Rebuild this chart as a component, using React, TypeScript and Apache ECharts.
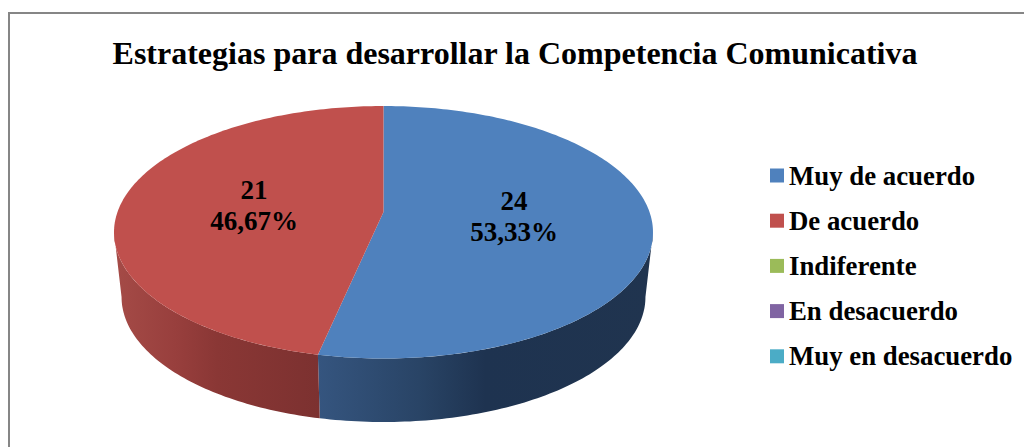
import React, { useEffect, useRef } from "react";
import * as echarts from "echarts";

const titleText = "Estrategias para desarrollar la Competencia Comunicativa";
const categories = ["Muy de acuerdo", "De acuerdo", "Indiferente", "En desacuerdo", "Muy en desacuerdo"];
const values = [24, 21, 0, 0, 0];
const colors = ["#4F81BD", "#C0504D", "#9BBB59", "#8064A2", "#4BACC6"];
const sideStops = [
  ["#35557F", "#294466", "#1E3350", "#20344F"],
  ["#A54B47", "#983F3D", "#8A3735", "#7C3130"],
];
const sideGradStops = [0, 0.3, 0.5, 1];

const FONT = '"Liberation Serif", "Times New Roman", serif';
const CX = 383.5;
const Y0 = 212;
const A = 266;
const B = 123;
const K = 0.1604;
const DROP = 65;
const SX = 0.972;
const SY = 0.99;
const WIDE = 90 + (Math.asin(K) * 180) / Math.PI;
const labelPos = [
  [514, 216],
  [254, 205],
];

const total = values.reduce((a, b) => a + b, 0);

function project(deg: number, bottom: boolean): number[] {
  const r = (deg * Math.PI) / 180;
  const x = Math.sin(r);
  const y = -Math.cos(r);
  const d = 1 - K * y;
  const sx = bottom ? SX : 1;
  const sy = bottom ? SY : 1;
  return [CX + (sx * A * x) / d, Y0 + (bottom ? DROP : 0) + (sy * B * y) / d];
}

function arc(a0: number, a1: number, bottom: boolean): number[][] {
  const n = Math.max(2, Math.ceil(Math.abs(a1 - a0)));
  const out: number[][] = [];
  for (let i = 0; i <= n; i++) out.push(project(a0 + ((a1 - a0) * i) / n, bottom));
  return out;
}

function renderSlice(params: any, api: any) {
  const idx = params.seriesIndex;
  const v = api.value(0);
  if (!v) return { type: "group", children: [] };
  const before = values.slice(0, idx).reduce((a, b) => a + b, 0);
  const a0 = (before / total) * 360;
  const a1 = ((before + v) / total) * 360;
  const children: any[] = [];
  const s0 = Math.max(a0, WIDE);
  const s1 = Math.min(a1, 360 - WIDE);
  if (s1 > s0) {
    const pts = [...arc(s0, s1, false), ...arc(s1, s0, true)];
    const stops = sideStops[idx] || [colors[idx], colors[idx], colors[idx], colors[idx]];
    children.push({
      type: "polygon",
      shape: { points: pts },
      style: {
        fill: new echarts.graphic.LinearGradient(
          0, 0, 1, 0,
          stops.map((color, i) => ({ offset: sideGradStops[i], color }))
        ),
      },
    });
  }
  children.push({
    type: "polygon",
    shape: { points: [[CX, Y0], ...arc(a0, a1, false)] },
    style: { fill: colors[idx] },
  });
  const pct = ((v / total) * 100).toFixed(2).replace(".", ",") + "%";
  const p = labelPos[idx];
  children.push({
    type: "text",
    x: p[0],
    y: p[1],
    style: {
      text: `${v}\n${pct}`,
      fill: "#000",
      font: `bold 27px ${FONT}`,
      lineHeight: 31,
      align: "center",
      verticalAlign: "middle",
    },
  });
  return { type: "group", children };
}

export default function App() {
  const ref = useRef<HTMLDivElement>(null);
  useEffect(() => {
    const chart = echarts.init(ref.current!, null, { renderer: "svg" });
    chart.setOption({
      animation: false,
      backgroundColor: "#fff",
      title: {
        text: titleText,
        left: 515,
        top: 32,
        textAlign: "center",
        textStyle: { fontFamily: FONT, fontWeight: "bold", fontSize: 32, color: "#000" },
      },
      legend: {
        orient: "vertical",
        left: 770,
        top: 161,
        icon: "rect",
        itemWidth: 14,
        itemHeight: 14,
        itemGap: 16.2,
        selectedMode: false,
        data: categories,
        padding: 0,
        textStyle: {
          fontFamily: FONT,
          fontWeight: "bold",
          fontSize: 26.8,
          color: "#000",
          padding: [0, 0, 0, 0],
          lineHeight: 29,
        },
      },
      graphic: [
        {
          type: "polyline",
          silent: true,
          shape: { points: [[9, 447], [9, 13], [1024, 13]] },
          style: { stroke: "#868686", lineWidth: 2, fill: "none" },
        },
      ],
      series: categories.map((name, i) => ({
        type: "custom",
        name,
        coordinateSystem: "none",
        itemStyle: { color: colors[i] },
        data: [[values[i]]],
        renderItem: renderSlice,
      })),
    });
    chart.setOption({ title: { left: 510 } });
    return () => chart.dispose();
  }, []);
  return (
    <div
      ref={ref}
      style={{ position: "absolute", left: 0, top: 0, width: 1024, height: 447 }}
    />
  );
}
